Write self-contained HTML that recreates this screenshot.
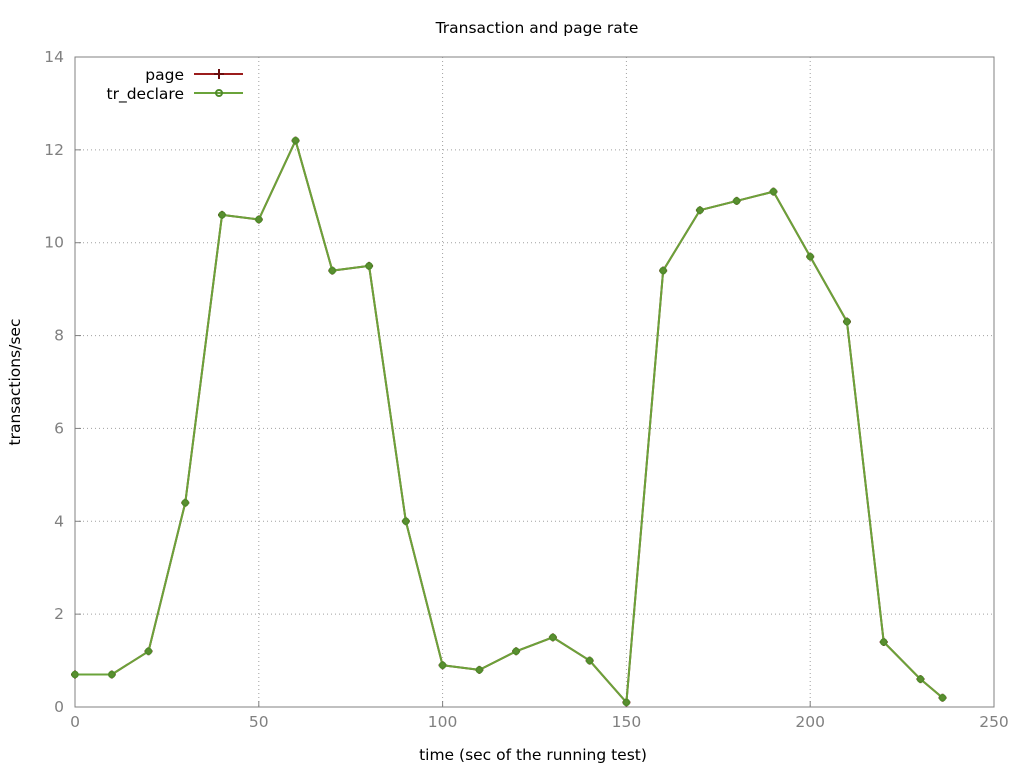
<!DOCTYPE html>
<html><head><meta charset="utf-8"><style>
body{margin:0;background:#fff;}
svg text{font-family:"DejaVu Sans","Liberation Sans",sans-serif;}
</style></head><body>
<svg id="chart" width="1024" height="768" xmlns="http://www.w3.org/2000/svg">
<rect width="1024" height="768" fill="#fff"/>
<g id="grid"></g>
<rect x="75" y="57" width="919" height="650" fill="none" stroke="#808080" stroke-width="1"/>
<g id="ticks"></g>
<g id="series"></g>
<text x="537" y="33" text-anchor="middle" font-size="15.5" fill="#000">Transaction and page rate</text>
<text x="533" y="760" text-anchor="middle" font-size="15.5" fill="#000">time (sec of the running test)</text>
<text transform="translate(20,382) rotate(-90)" text-anchor="middle" font-size="15.5" fill="#000">transactions/sec</text>
<g>
<text x="184" y="80" text-anchor="end" font-size="15.5">page</text>
<line x1="194" y1="74" x2="243" y2="74" stroke="#9b1c1c" stroke-width="2"/>
<path d="M214 74h10M219 69v10" stroke="#6b0e0e" stroke-width="2"/>
<text x="184" y="99" text-anchor="end" font-size="15.5">tr_declare</text>
<line x1="194" y1="93" x2="243" y2="93" stroke="#6aa33a" stroke-width="2"/>
<circle cx="219" cy="93" r="3" fill="none" stroke="#4f8a2a" stroke-width="2"/>
</g>
</svg>
<script>
const times=[0,10,20,30,40,50,60,70,80,90,100,110,120,130,140,150,160,170,180,190,200,210,220,230,236];
const pageValues=[0.7,0.7,1.2,4.4,10.6,10.5,12.2,9.4,9.5,4.0,0.9,0.8,1.2,1.5,1.0,0.1,9.4,10.7,10.9,11.1,9.7,8.3,1.4,0.6,0.2];
const trDeclareValues=[0.7,0.7,1.2,4.4,10.6,10.5,12.2,9.4,9.5,4.0,0.9,0.8,1.2,1.5,1.0,0.1,9.4,10.7,10.9,11.1,9.7,8.3,1.4,0.6,0.2];
const xTicks=[0,50,100,150,200,250];
const yTicks=[0,2,4,6,8,10,12,14];
const NS="http://www.w3.org/2000/svg";
const X0=75,X1=994,Y0=707,Y1=57;
function sx(v){return X0+(v-0)/250*(X1-X0);}
function sy(v){return Y0-(v-0)/14*(Y0-Y1);}
function mk(tag,attrs,parent){const e=document.createElementNS(NS,tag);for(const k in attrs)e.setAttribute(k,attrs[k]);parent.appendChild(e);return e;}
const grid=document.getElementById('grid'),ticks=document.getElementById('ticks'),series=document.getElementById('series');
xTicks.forEach(t=>{
  const x=sx(t);
  if(t>0&&t<250){const g=mk('line',{x1:x,y1:Y1,x2:x,y2:Y0,stroke:'#a0a0a0','stroke-dasharray':'1,3'},grid);
  
  }
  const l=mk('line',{x1:x,y1:Y0,x2:x,y2:Y0-6,stroke:'#808080'},ticks);
  
  
  const tx=mk('text',{x:x,y:Y0+20,'text-anchor':'middle','font-size':'15.5',fill:'#808080'},ticks);
  tx.textContent=t;
  
  
});
yTicks.forEach(t=>{
  const y=sy(t);
  if(t>0&&t<14){const g=mk('line',{x1:X0,y1:y,x2:X1,y2:y,stroke:'#a0a0a0','stroke-dasharray':'1,3'},grid);
  
  }
  const l=mk('line',{x1:X0,y1:y,x2:X0+6,y2:y,stroke:'#808080'},ticks);
  
  
  const tx=mk('text',{x:X0-11,y:y+5,'text-anchor':'end','font-size':'15.5',fill:'#808080'},ticks);
  tx.textContent=t;
  
  
});
function drawSeries(vals,color,mcolor,name,marker){
  const pts=vals.map((v,i)=>sx(times[i])+','+sy(v)).join(' ');
  const pl=mk('polyline',{points:pts,fill:'none',stroke:color,'stroke-width':'2','stroke-linejoin':'round'},series);
  
  
  vals.forEach((v,i)=>{
    const x=sx(times[i]),y=sy(v);
    let m;
    if(marker==='plus'){m=mk('path',{d:`M${x-4} ${y}h8M${x} ${y-4}v8`,stroke:mcolor,'stroke-width':'2'},series);}
    else{m=mk('circle',{cx:x,cy:y,r:3,fill:'#5a8f30',stroke:mcolor,'stroke-width':'1.5'},series);}
    
    
  });
}
drawSeries(pageValues,'#9b1c1c','#6b0e0e','page','plus');
drawSeries(trDeclareValues,'#6aa33a','#4f8a2a','tr-declare','circle');
</script>
</body></html>
